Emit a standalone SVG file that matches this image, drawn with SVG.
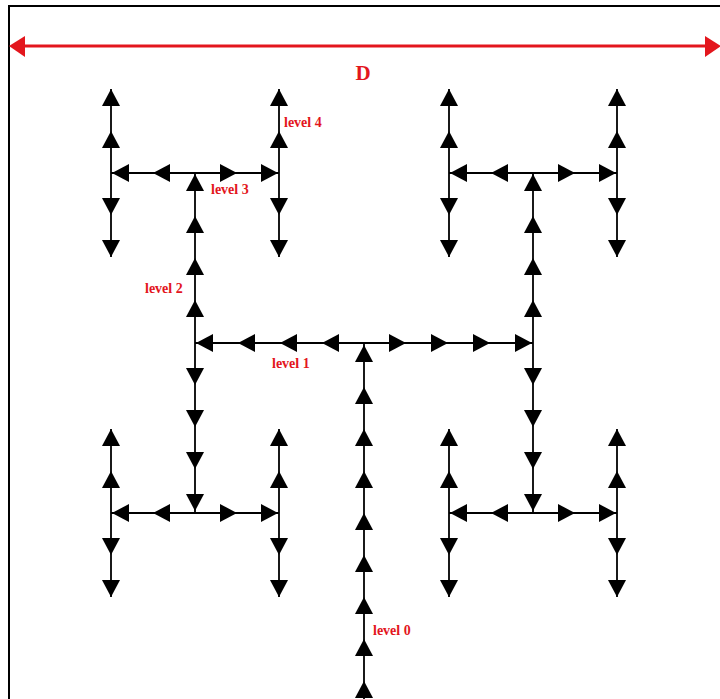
<svg xmlns="http://www.w3.org/2000/svg" xmlns:xlink="http://www.w3.org/1999/xlink" width="720" height="699" viewBox="0 0 720 699">
<style>
.ln{stroke:#000;stroke-width:1.8;fill:none}
.ar{fill:#000}
.lbl{font-family:"Liberation Serif","Times New Roman",serif;font-weight:bold;font-size:14px;fill:#e3161d}
.dim{stroke:#e3161d;stroke-width:3;fill:none}
.dimh{fill:#e3161d}
</style>
<defs>
<polygon id="u" class="ar" points="0,0 -9,17 9,17"/>
<polygon id="d" class="ar" points="0,0 -9,-17 9,-17"/>
<polygon id="l" class="ar" points="0,0 17,-9 17,9"/>
<polygon id="r" class="ar" points="0,0 -17,-9 -17,9"/>
</defs>
<rect x="0" y="0" width="720" height="699" fill="#fff"/>
<rect id="frame" x="9" y="6" width="730" height="720" fill="none" stroke="#000" stroke-width="2"/>
<g id="dimension">
<line class="dim" x1="22" y1="46" x2="706" y2="46"/>
<polygon class="dimh" points="9,46 25,36 25,57"/>
<polygon class="dimh" points="721,46 705,36 705,57"/>
<text class="lbl" x="363" y="80" text-anchor="middle" style="font-size:21px">D</text>
</g>
<g id="connectors">
<line class="ln" x1="364" y1="343" x2="364" y2="699"/>
<line class="ln" x1="195" y1="343" x2="533" y2="343"/>
<line class="ln" x1="195" y1="173" x2="195" y2="513"/>
<line class="ln" x1="533" y1="173" x2="533" y2="513"/>
<line class="ln" x1="111" y1="173" x2="279" y2="173"/>
<line class="ln" x1="111" y1="513" x2="279" y2="513"/>
<line class="ln" x1="449" y1="173" x2="617" y2="173"/>
<line class="ln" x1="449" y1="513" x2="617" y2="513"/>
<line class="ln" x1="111" y1="89" x2="111" y2="257"/>
<line class="ln" x1="279" y1="89" x2="279" y2="257"/>
<line class="ln" x1="449" y1="89" x2="449" y2="257"/>
<line class="ln" x1="617" y1="89" x2="617" y2="257"/>
<line class="ln" x1="111" y1="429" x2="111" y2="597"/>
<line class="ln" x1="279" y1="429" x2="279" y2="597"/>
<line class="ln" x1="449" y1="429" x2="449" y2="597"/>
<line class="ln" x1="617" y1="429" x2="617" y2="597"/>
</g>
<g id="level0">
<use xlink:href="#u" x="364" y="345"/>
<use xlink:href="#u" x="364" y="387"/>
<use xlink:href="#u" x="364" y="429"/>
<use xlink:href="#u" x="364" y="471"/>
<use xlink:href="#u" x="364" y="513"/>
<use xlink:href="#u" x="364" y="555"/>
<use xlink:href="#u" x="364" y="597"/>
<use xlink:href="#u" x="364" y="639"/>
<use xlink:href="#u" x="364" y="681"/>
<text class="lbl" x="373" y="635">level 0</text>
</g>
<g id="level1">
<use xlink:href="#l" x="322" y="343"/>
<use xlink:href="#l" x="280" y="343"/>
<use xlink:href="#l" x="238" y="343"/>
<use xlink:href="#l" x="196" y="343"/>
<use xlink:href="#r" x="406" y="343"/>
<use xlink:href="#r" x="448" y="343"/>
<use xlink:href="#r" x="490" y="343"/>
<use xlink:href="#r" x="532" y="343"/>
<text class="lbl" x="272" y="368">level 1</text>
</g>
<g id="level2">
<use xlink:href="#u" x="195" y="300"/>
<use xlink:href="#u" x="195" y="258"/>
<use xlink:href="#u" x="195" y="216"/>
<use xlink:href="#u" x="195" y="174"/>
<use xlink:href="#d" x="195" y="385"/>
<use xlink:href="#d" x="195" y="427"/>
<use xlink:href="#d" x="195" y="469"/>
<use xlink:href="#d" x="195" y="511"/>
<use xlink:href="#u" x="533" y="300"/>
<use xlink:href="#u" x="533" y="258"/>
<use xlink:href="#u" x="533" y="216"/>
<use xlink:href="#u" x="533" y="174"/>
<use xlink:href="#d" x="533" y="385"/>
<use xlink:href="#d" x="533" y="427"/>
<use xlink:href="#d" x="533" y="469"/>
<use xlink:href="#d" x="533" y="511"/>
<text class="lbl" x="145" y="293">level 2</text>
</g>
<g id="level3">
<use xlink:href="#l" x="153" y="173"/><use xlink:href="#l" x="112" y="173"/>
<use xlink:href="#r" x="237" y="173"/><use xlink:href="#r" x="278" y="173"/>
<use xlink:href="#l" x="153" y="513"/><use xlink:href="#l" x="112" y="513"/>
<use xlink:href="#r" x="237" y="513"/><use xlink:href="#r" x="278" y="513"/>
<use xlink:href="#l" x="491" y="173"/><use xlink:href="#l" x="450" y="173"/>
<use xlink:href="#r" x="575" y="173"/><use xlink:href="#r" x="616" y="173"/>
<use xlink:href="#l" x="491" y="513"/><use xlink:href="#l" x="450" y="513"/>
<use xlink:href="#r" x="575" y="513"/><use xlink:href="#r" x="616" y="513"/>
<text class="lbl" x="211" y="194">level 3</text>
</g>
<g id="level4">
<use xlink:href="#u" x="111" y="131"/><use xlink:href="#u" x="111" y="89"/>
<use xlink:href="#d" x="111" y="215"/><use xlink:href="#d" x="111" y="257"/>
<use xlink:href="#u" x="279" y="131"/><use xlink:href="#u" x="279" y="89"/>
<use xlink:href="#d" x="279" y="215"/><use xlink:href="#d" x="279" y="257"/>
<use xlink:href="#u" x="449" y="131"/><use xlink:href="#u" x="449" y="89"/>
<use xlink:href="#d" x="449" y="215"/><use xlink:href="#d" x="449" y="257"/>
<use xlink:href="#u" x="617" y="131"/><use xlink:href="#u" x="617" y="89"/>
<use xlink:href="#d" x="617" y="215"/><use xlink:href="#d" x="617" y="257"/>
<use xlink:href="#u" x="111" y="471"/><use xlink:href="#u" x="111" y="429"/>
<use xlink:href="#d" x="111" y="555"/><use xlink:href="#d" x="111" y="597"/>
<use xlink:href="#u" x="279" y="471"/><use xlink:href="#u" x="279" y="429"/>
<use xlink:href="#d" x="279" y="555"/><use xlink:href="#d" x="279" y="597"/>
<use xlink:href="#u" x="449" y="471"/><use xlink:href="#u" x="449" y="429"/>
<use xlink:href="#d" x="449" y="555"/><use xlink:href="#d" x="449" y="597"/>
<use xlink:href="#u" x="617" y="471"/><use xlink:href="#u" x="617" y="429"/>
<use xlink:href="#d" x="617" y="555"/><use xlink:href="#d" x="617" y="597"/>
<text class="lbl" x="284" y="127">level 4</text>
</g>
</svg>
